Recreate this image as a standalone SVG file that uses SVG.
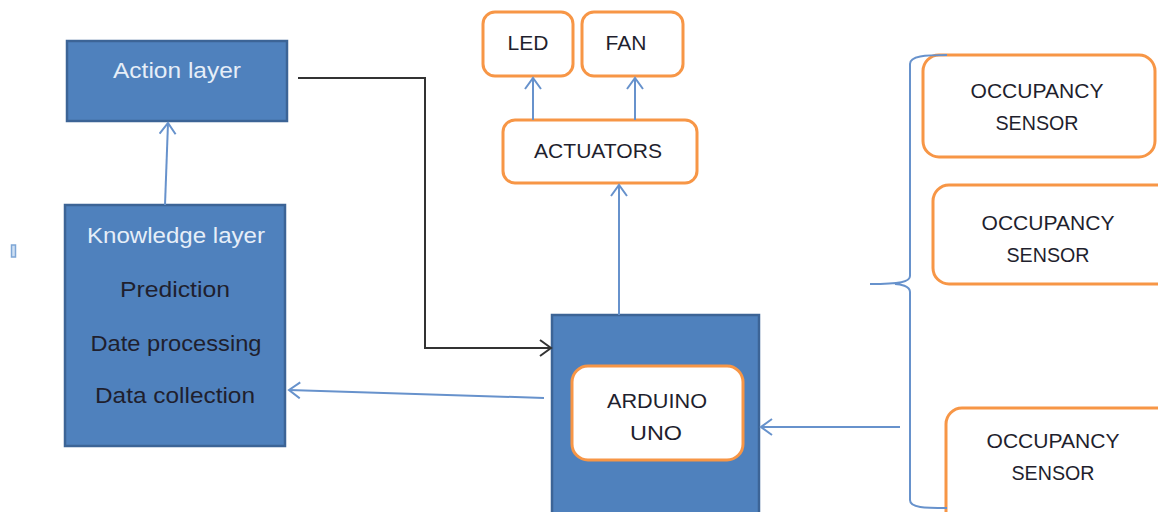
<svg xmlns="http://www.w3.org/2000/svg" width="1158" height="512" viewBox="0 0 1158 512">
<style>
.blue{fill:#4f81bd;stroke:#3c6496;stroke-width:2.5}
.orange{fill:#fff;stroke:#f79646;stroke-width:3}
.t{font-family:"Liberation Sans",Arial,sans-serif;font-size:21px;text-anchor:middle;fill:#1f1f2e}
.b{font-size:22px}
.w{fill:#e6eef8}
.conn{fill:none;stroke:#6792cc;stroke-width:2}
.blk{fill:none;stroke:#333;stroke-width:2}
</style>
<defs>
<marker id="ab" markerWidth="16" markerHeight="18" refX="12" refY="9" orient="auto" markerUnits="userSpaceOnUse">
<path d="M1,1 L12,9 L1,17" fill="none" stroke="#6792cc" stroke-width="2"/>
</marker>
<marker id="ak" markerWidth="16" markerHeight="18" refX="12" refY="9" orient="auto" markerUnits="userSpaceOnUse">
<path d="M1,1 L12,9 L1,17" fill="none" stroke="#333" stroke-width="2"/>
</marker>
</defs>
<rect x="0" y="0" width="1158" height="512" fill="#fff"/>
<rect x="11.5" y="245" width="4" height="12" fill="#cfe0f3" stroke="#7ea6d6" stroke-width="1.5"/>

<g id="action">
<rect class="blue" x="67" y="41" width="220" height="80"/>
<text class="t b w" x="177" y="78" textLength="128" lengthAdjust="spacingAndGlyphs">Action layer</text>
</g>
<g id="knowledge">
<rect class="blue" x="65" y="205" width="220" height="241"/>
<text class="t b w" x="176" y="243" textLength="178" lengthAdjust="spacingAndGlyphs">Knowledge layer</text>
<text class="t b" x="175" y="297" textLength="110" lengthAdjust="spacingAndGlyphs">Prediction</text>
<text class="t b" x="176" y="351" textLength="171" lengthAdjust="spacingAndGlyphs">Date processing</text>
<text class="t b" x="175" y="403" textLength="160" lengthAdjust="spacingAndGlyphs">Data collection</text>
</g>
<g id="arduino">
<rect class="blue" x="552" y="315" width="207" height="205"/>
<rect class="orange" x="572" y="366" width="171" height="94" rx="16"/>
<text class="t" x="657" y="408" textLength="100" lengthAdjust="spacingAndGlyphs">ARDUINO</text>
<text class="t" x="656" y="440" textLength="52" lengthAdjust="spacingAndGlyphs">UNO</text>
</g>
<g id="actuators">
<rect class="orange" x="503" y="120" width="194" height="63" rx="12"/>
<text class="t" x="598" y="158" textLength="128" lengthAdjust="spacingAndGlyphs">ACTUATORS</text>
</g>
<g id="led">
<rect class="orange" x="483" y="12" width="90" height="64" rx="12"/>
<text class="t" x="528" y="50">LED</text>
</g>
<g id="fan">
<rect class="orange" x="582" y="12" width="101" height="64" rx="12"/>
<text class="t" x="626" y="50">FAN</text>
</g>
<g id="sensor1">
<rect class="orange" x="923" y="55" width="232" height="102" rx="16"/>
<text class="t" x="1037" y="98" textLength="133" lengthAdjust="spacingAndGlyphs">OCCUPANCY</text>
<text class="t" x="1037" y="130" textLength="83" lengthAdjust="spacingAndGlyphs">SENSOR</text>
</g>
<g id="sensor2">
<rect class="orange" x="933" y="185" width="240" height="99" rx="16"/>
<text class="t" x="1048" y="230" textLength="133" lengthAdjust="spacingAndGlyphs">OCCUPANCY</text>
<text class="t" x="1048" y="262" textLength="83" lengthAdjust="spacingAndGlyphs">SENSOR</text>
</g>
<g id="sensor3">
<rect class="orange" x="946" y="408" width="230" height="120" rx="16"/>
<text class="t" x="1053" y="448" textLength="133" lengthAdjust="spacingAndGlyphs">OCCUPANCY</text>
<text class="t" x="1053" y="480" textLength="83" lengthAdjust="spacingAndGlyphs">SENSOR</text>
</g>

<g id="connectors">
<path class="conn" d="M165,205 L168,123" marker-end="url(#ab)"/>
<path class="blk" d="M298,78 L425,78 L425,348 L551,348" marker-end="url(#ak)"/>
<path class="conn" d="M544,398 L289,390" marker-end="url(#ab)"/>
<path class="conn" d="M619,315 L619,185" marker-end="url(#ab)"/>
<path class="conn" d="M533,120 L533,78" marker-end="url(#ab)"/>
<path class="conn" d="M635,120 L635,78" marker-end="url(#ab)"/>
<path class="conn" d="M900,427 L761,427" marker-end="url(#ab)"/>
<path class="conn" d="M947,55 C925,55 910,56 910,64 L910,276 C910,282 900,284 870,284 M910,292 C910,286 900,284 895,284 M910,292 L910,500 C910,508 925,508 947,508"/>
</g>
</svg>
